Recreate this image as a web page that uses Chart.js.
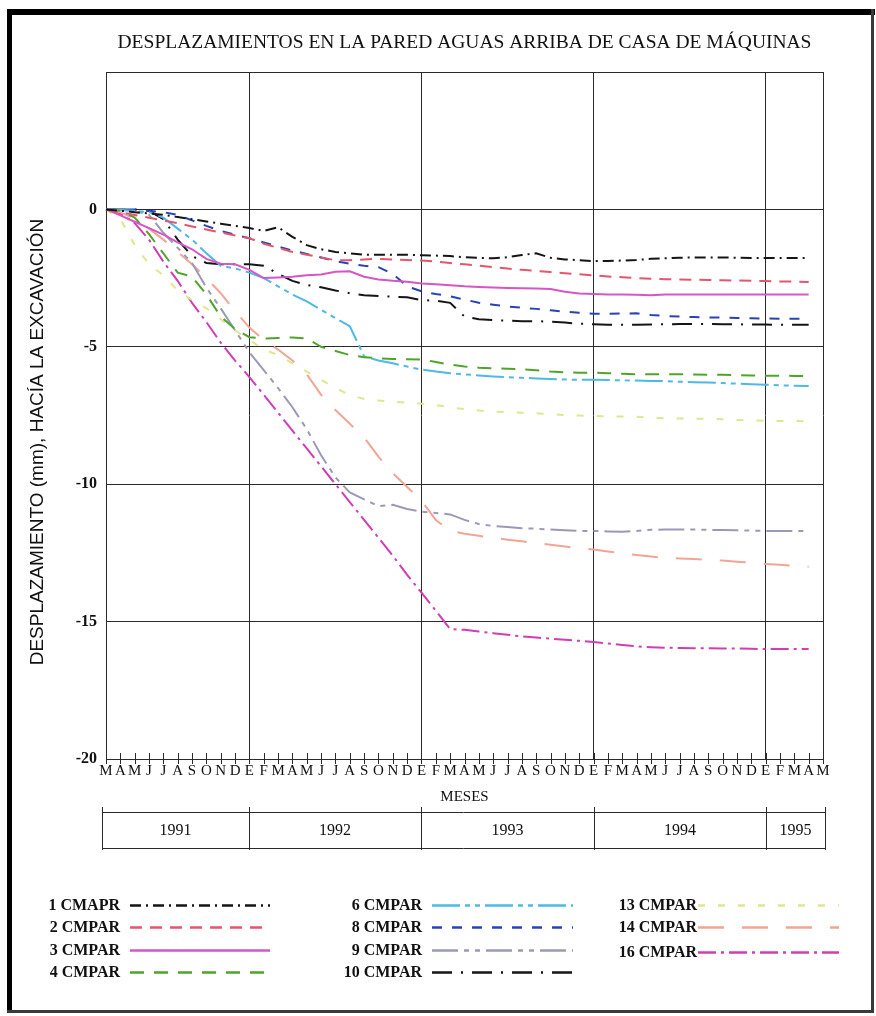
<!DOCTYPE html>
<html lang="es">
<head>
<meta charset="utf-8">
<title>Desplazamientos casa de máquinas</title>
<script src="https://cdn.jsdelivr.net/npm/chart.js@4.4.1/dist/chart.umd.min.js"></script>
<style>
    html, body { margin: 0; padding: 0; background: #fff; }
    #grafico { display: block; }
</style>
</head>
<body>
<canvas id="grafico" width="876" height="1016"></canvas>
<script>
// --- DATOS ---
// meses de marzo 1991 a mayo 1995 (E = enero)
const meses = ['M','A','M','J','J','A','S','O','N','D',
    'E','F','M','A','M','J','J','A','S','O','N','D',
    'E','F','M','A','M','J','J','A','S','O','N','D',
    'E','F','M','A','M','J','J','A','S','O','N','D',
    'E','F','M','A','M'];
const anios = ['1991', '1992', '1993', '1994', '1995'];
const inicioAnio = [10, 22, 34, 46]; // índice del mes de enero de cada año nuevo

const ticksY = [5, 0, -5, -10, -15, -20];

const cmapr1 = [0, -0.05, -0.1, -0.15, -0.2, -0.28, -0.36, -0.44, -0.52, -0.6, -0.68, -0.78, -0.65, -1.0, -1.3, -1.45, -1.55, -1.6, -1.65, -1.65,
    -1.65, -1.65, -1.67, -1.68, -1.7, -1.74, -1.76, -1.78, -1.74, -1.66, -1.6, -1.76, -1.82, -1.85, -1.88, -1.88, -1.86, -1.84, -1.8, -1.78,
    -1.76, -1.75, -1.75, -1.75, -1.76, -1.77, -1.77, -1.77, -1.77, -1.77];
const cmpar2 = [0, -0.1, -0.2, -0.3, -0.4, -0.5, -0.62, -0.73, -0.84, -0.95, -1.05, -1.25, -1.4, -1.55, -1.65, -1.75, -1.85, -1.85, -1.82, -1.8,
    -1.82, -1.84, -1.86, -1.9, -1.95, -2.0, -2.05, -2.1, -2.15, -2.2, -2.24, -2.28, -2.32, -2.36, -2.4, -2.44, -2.47, -2.5, -2.52, -2.54,
    -2.55, -2.56, -2.57, -2.58, -2.59, -2.6, -2.61, -2.62, -2.63, -2.64];
const cmpar3 = [0, -0.22, -0.45, -0.68, -0.92, -1.2, -1.45, -1.8, -1.98, -2.0, -2.2, -2.5, -2.48, -2.45, -2.4, -2.37, -2.27, -2.25, -2.45, -2.55,
    -2.6, -2.63, -2.7, -2.72, -2.76, -2.8, -2.82, -2.84, -2.86, -2.87, -2.88, -2.9, -3.0, -3.06, -3.08, -3.1, -3.1, -3.11, -3.12, -3.1,
    -3.1, -3.1, -3.1, -3.1, -3.1, -3.1, -3.1, -3.1, -3.1, -3.1];
const cmpar4 = [0, -0.05, -0.3, -0.9, -1.6, -2.3, -2.45, -3.1, -3.9, -4.35, -4.65, -4.7, -4.68, -4.66, -4.7, -5.0, -5.15, -5.3, -5.38, -5.42,
    -5.44, -5.45, -5.46, -5.55, -5.65, -5.72, -5.76, -5.78, -5.8, -5.82, -5.85, -5.9, -5.93, -5.94, -5.94, -5.96, -5.98, -6.0, -6.0, -6.0,
    -6.0, -6.01, -6.02, -6.02, -6.03, -6.04, -6.05, -6.05, -6.06, -6.07];
const cmpar6 = [0, -0.02, -0.05, -0.1, -0.3, -0.7, -1.1, -1.6, -2.05, -2.15, -2.3, -2.5, -2.8, -3.1, -3.35, -3.65, -3.96, -4.25, -5.35, -5.5,
    -5.6, -5.72, -5.83, -5.9, -5.96, -6.0, -6.04, -6.08, -6.11, -6.13, -6.15, -6.17, -6.19, -6.2, -6.2, -6.21, -6.22, -6.23, -6.24, -6.25,
    -6.27, -6.29, -6.3, -6.32, -6.34, -6.36, -6.38, -6.4, -6.42, -6.43];
const cmpar8 = [0, 0, 0, -0.05, -0.1, -0.2, -0.4, -0.6, -0.78, -0.92, -1.05, -1.2, -1.35, -1.5, -1.62, -1.75, -1.88, -1.98, -2.05, -2.1,
    -2.35, -2.8, -2.98, -3.08, -3.16, -3.28, -3.4, -3.47, -3.53, -3.58, -3.62, -3.67, -3.72, -3.76, -3.8, -3.8, -3.79, -3.78, -3.84, -3.88,
    -3.9, -3.92, -3.93, -3.94, -3.95, -3.96, -3.97, -3.98, -3.98, -3.98];
const cmpar9 = [0, -0.02, -0.05, -0.2, -0.85, -1.4, -1.95, -2.85, -3.6, -4.4, -5.2, -5.85, -6.5, -7.2, -8.0, -8.95, -9.75, -10.3, -10.55, -10.8,
    -10.75, -10.9, -11.0, -11.05, -11.1, -11.3, -11.45, -11.52, -11.56, -11.6, -11.62, -11.65, -11.68, -11.7, -11.7, -11.72, -11.73, -11.7, -11.66, -11.65,
    -11.65, -11.65, -11.66, -11.67, -11.68, -11.69, -11.7, -11.7, -11.7, -11.7];
const cmpar10 = [0, 0, 0, -0.05, -0.35, -1.1, -1.7, -1.95, -2.0, -2.0, -2.0, -2.05, -2.35, -2.6, -2.75, -2.83, -2.95, -3.05, -3.12, -3.15,
    -3.18, -3.2, -3.3, -3.32, -3.4, -3.9, -4.0, -4.03, -4.05, -4.07, -4.07, -4.08, -4.12, -4.16, -4.18, -4.2, -4.2, -4.2, -4.19, -4.18,
    -4.17, -4.17, -4.17, -4.18, -4.18, -4.19, -4.19, -4.2, -4.2, -4.2];
const cmpar13 = [0, -0.35, -1.3, -2.0, -2.4, -2.95, -3.3, -3.6, -4.0, -4.4, -4.75, -5.1, -5.3, -5.6, -5.9, -6.2, -6.5, -6.75, -6.9, -6.95,
    -7.0, -7.03, -7.07, -7.12, -7.2, -7.27, -7.32, -7.36, -7.38, -7.4, -7.42, -7.45, -7.48, -7.5, -7.52, -7.53, -7.54, -7.55, -7.58, -7.6,
    -7.61, -7.62, -7.62, -7.64, -7.66, -7.68, -7.69, -7.7, -7.7, -7.72];
const cmpar14 = [0, -0.1, -0.35, -0.7, -1.1, -1.55, -2.0, -2.5, -3.05, -3.7, -4.3, -4.75, -5.1, -5.5, -6.0, -6.75, -7.3, -7.8, -8.3, -9.0,
    -9.6, -10.1, -10.6, -11.3, -11.7, -11.8, -11.88, -11.95, -12.02, -12.08, -12.14, -12.2, -12.27, -12.33, -12.38, -12.45, -12.52, -12.58, -12.63, -12.68,
    -12.7, -12.72, -12.75, -12.78, -12.82, -12.86, -12.9, -12.93, -12.97, -13.0];
const cmpar16 = [0, -0.15, -0.5, -1.1, -1.9, -2.6, -3.4, -4.1, -4.85, -5.5, -6.1, -6.75, -7.4, -8.05, -8.7, -9.35, -10.0, -10.65, -11.3, -11.95,
    -12.6, -13.3, -13.95, -14.6, -15.27, -15.3, -15.36, -15.42, -15.48, -15.54, -15.58, -15.62, -15.66, -15.7, -15.74, -15.8, -15.85, -15.9, -15.93, -15.95,
    -15.96, -15.97, -15.97, -15.98, -15.98, -15.99, -16.0, -16.0, -16.0, -16.0];

// --- ESTILO ---
const SERIF = '"Liberation Serif", "Times New Roman", serif';
const SANS = '"Liberation Sans", Arial, sans-serif';
const LINEA = '#2a2a2a';
const TITULO = 'DESPLAZAMIENTOS EN LA PARED AGUAS ARRIBA DE CASA DE MÁQUINAS';
const TITULO_Y = 'DESPLAZAMIENTO (mm), HACÍA LA EXCAVACIÓN';

function serie(label, data, color, dash, ancho) {
    return {
        label,
        data,
        borderColor: color,
        backgroundColor: color,
        borderDash: dash,
        borderWidth: ancho || 2,
        pointRadius: 0,
        tension: 0,
        fill: false
    };
}

const datasets = [
    serie('1 CMAPR', cmapr1, '#151515', [11, 5, 2, 5]),
    serie('2 CMPAR', cmpar2, '#e2566e', [12, 8]),
    serie('3 CMPAR', cmpar3, '#d656c6', []),
    serie('4 CMPAR', cmpar4, '#4fa52c', [14, 10]),
    serie('6 CMPAR', cmpar6, '#4cb9e6', [28, 5, 5, 5, 5, 5]),
    serie('8 CMPAR', cmpar8, '#2743b6', [10, 10]),
    serie('9 CMPAR', cmpar9, '#9a9ab6', [26, 6, 5, 6, 5, 6]),
    serie('10 CMPAR', cmpar10, '#151515', [20, 9, 2, 9]),
    serie('13 CMPAR', cmpar13, '#dfe68e', [7, 13]),
    serie('14 CMPAR', cmpar14, '#f3a595', [26, 18]),
    serie('16 CMPAR', cmpar16, '#d23db5', [18, 5, 3, 5])
];

// columnas de la leyenda: borde derecho del texto, muestra de línea y filas
const columnasLeyenda = [
    { texto: 120, x0: 130, x1: 270, series: [0, 1, 2, 3], filas: [905, 927, 950, 972] },
    { texto: 422, x0: 432, x1: 573, series: [4, 5, 6, 7], filas: [905, 927, 950, 972] },
    { texto: 697, x0: 698, x1: 839, series: [8, 9, 10], filas: [905, 927, 952] }
];

// --- PLUGINS ---
const marco = {
    id: 'marco',
    beforeDraw(chart) {
        const ctx = chart.ctx;
        ctx.save();
        ctx.fillStyle = '#fff';
        ctx.fillRect(0, 0, chart.width, chart.height);
        ctx.fillStyle = '#000';
        ctx.fillRect(7, 9, 868, 6);
        ctx.fillRect(7, 9, 5, 1004);
        ctx.fillStyle = '#3a3a3a';
        ctx.fillRect(871, 9, 3, 1004);
        ctx.fillRect(7, 1010, 867, 3);
        ctx.restore();
    }
};

// títulos centrados sobre el área del gráfico
const titulos = {
    id: 'titulos',
    afterDraw(chart) {
        const ctx = chart.ctx;
        const area = chart.chartArea;
        ctx.save();
        ctx.fillStyle = '#111';
        ctx.textAlign = 'center';
        ctx.textBaseline = 'middle';
        ctx.font = '19.5px ' + SERIF;
        ctx.fillText(TITULO, (area.left + area.right) / 2, 43);
        ctx.translate(38, 442);
        ctx.rotate(-Math.PI / 2);
        ctx.font = '19px ' + SANS;
        ctx.fillText(TITULO_Y, 0, 0);
        ctx.restore();
    }
};

const marcasMes = {
    id: 'marcasMes',
    afterDraw(chart) {
        const ctx = chart.ctx;
        const x = chart.scales.x;
        const base = chart.chartArea.bottom;
        ctx.save();
        ctx.strokeStyle = LINEA;
        ctx.lineWidth = 1;
        ctx.beginPath();
        meses.forEach((m, i) => {
            const px = Math.round(x.getPixelForValue(i)) + 0.5;
            ctx.moveTo(px, base - 6);
            ctx.lineTo(px, base + 5);
        });
        ctx.stroke();
        ctx.restore();
    }
};

const tablaAnios = {
    id: 'tablaAnios',
    afterDraw(chart) {
        const ctx = chart.ctx;
        const x = chart.scales.x;
        const izq = 102, der = Math.round(x.getPixelForValue(meses.length - 1)) + 2;
        const arriba = 812, abajo = 848;
        const cortes = [izq, ...inicioAnio.map(i => Math.round(x.getPixelForValue(i))), der];
        ctx.save();
        ctx.strokeStyle = LINEA;
        ctx.lineWidth = 1;
        ctx.beginPath();
        ctx.moveTo(izq, arriba + 0.5); ctx.lineTo(der, arriba + 0.5);
        ctx.moveTo(izq, abajo + 0.5); ctx.lineTo(der, abajo + 0.5);
        cortes.forEach(c => {
            ctx.moveTo(c + 0.5, arriba - 5);
            ctx.lineTo(c + 0.5, abajo + 2);
        });
        ctx.stroke();
        ctx.fillStyle = '#111';
        ctx.font = '16px ' + SERIF;
        ctx.textAlign = 'center';
        ctx.textBaseline = 'middle';
        anios.forEach((a, i) => {
            ctx.fillText(a, (cortes[i] + cortes[i + 1]) / 2, (arriba + abajo) / 2 + 1);
        });
        ctx.restore();
    }
};

const leyenda = {
    id: 'leyenda',
    afterDraw(chart) {
        const ctx = chart.ctx;
        ctx.save();
        ctx.font = 'bold 16px ' + SERIF;
        ctx.textAlign = 'right';
        ctx.textBaseline = 'middle';
        columnasLeyenda.forEach(col => {
            col.series.forEach((idx, k) => {
                const ds = chart.data.datasets[idx];
                const y = col.filas[k];
                ctx.fillStyle = '#111';
                ctx.fillText(ds.label, col.texto, y + 1);
                ctx.strokeStyle = ds.borderColor;
                ctx.lineWidth = 2.5;
                ctx.setLineDash(ds.borderDash);
                ctx.beginPath();
                ctx.moveTo(col.x0, y + 0.5);
                ctx.lineTo(col.x1, y + 0.5);
                ctx.stroke();
            });
        });
        ctx.restore();
    }
};

// --- GRÁFICO ---
const ctx = document.getElementById('grafico').getContext('2d');
new Chart(ctx, {
    type: 'line',
    data: { labels: meses, datasets },
    options: {
        responsive: false,
        animation: false,
        devicePixelRatio: 1,
        layout: { padding: { left: 14, right: 53, top: 72, bottom: 207 } },
        plugins: {
            legend: { display: false },
            tooltip: { enabled: false },
            title: { display: false }
        },
        scales: {
            x: {
                type: 'category',
                afterFit: s => { s.height = 50; },
                grid: {
                    drawTicks: false,
                    lineWidth: 1,
                    color: c => (c.index === 0 || c.index === meses.length - 1 || inicioAnio.includes(c.index)) ? LINEA : 'rgba(0,0,0,0)'
                },
                border: { display: true, color: LINEA, width: 1 },
                ticks: {
                    autoSkip: false,
                    maxRotation: 0,
                    padding: 3,
                    color: '#111',
                    font: { family: SERIF, size: 15 }
                },
                title: {
                    display: true,
                    text: 'MESES',
                    color: '#111',
                    font: { family: SERIF, size: 15 },
                    padding: { top: 0, bottom: 3 }
                }
            },
            y: {
                min: -20,
                max: 5,
                afterFit: s => { s.width = 92; },
                afterBuildTicks: s => { s.ticks = ticksY.map(v => ({ value: v })); },
                grid: { drawTicks: false, color: LINEA, lineWidth: 1 },
                border: { display: true, color: LINEA, width: 1 },
                ticks: {
                    padding: 9,
                    color: '#111',
                    font: { family: SERIF, size: 16, weight: 'bold' },
                    callback: v => v === 5 ? '' : String(v)
                }
            }
        }
    },
    plugins: [marco, titulos, marcasMes, tablaAnios, leyenda]
});
</script>
</body>
</html>
